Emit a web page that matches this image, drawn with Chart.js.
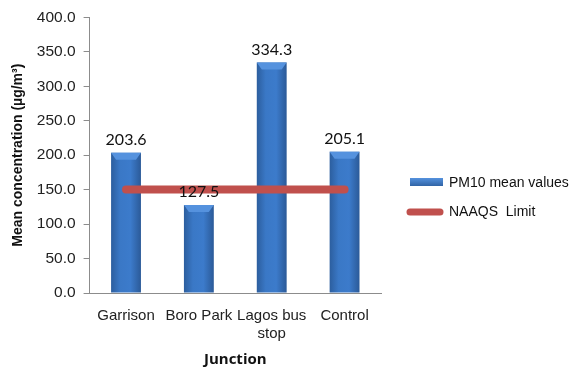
<!DOCTYPE html>
<html lang="en">
<head>
    <meta charset="UTF-8">
    <title>PM10 Mean Concentration by Junction</title>
    <script src="https://cdn.jsdelivr.net/npm/chart.js"></script>
    <style>
        html, body { margin: 0; padding: 0; background: #fff; }
        #wrap { position: relative; width: 579px; height: 377px; }
    </style>
</head>
<body>
    <div id="wrap"><canvas id="pmChart"></canvas></div>

    <script>
        // Junction data
        const junctions = ['Garrison', 'Boro Park', ['Lagos bus', 'stop'], 'Control'];
        const pm10Means = [203.6, 127.5, 334.3, 205.1];
        const naaqsLimit = [150, 150, 150, 150];
        const yTicks = [0, 50, 100, 150, 200, 250, 300, 350, 400];

        const barBlue = '#3a77c6';
        const limitRed = '#c0504d';
        const BAR_PCT = 0.41;
        const BAR_DS = 1;

        // Cylinder-ish shading across each bar, placed from the x scale
        function barFill(ctx) {
            const chart = ctx.chart;
            const xs = chart.scales.x;
            if (!xs || !chart.chartArea) return barBlue;
            const cx = xs.getPixelForValue(ctx.dataIndex);
            const half = (xs.width / junctions.length) * BAR_PCT / 2;
            if (!isFinite(cx) || !half) return barBlue;
            const g = chart.ctx.createLinearGradient(cx - half, 0, cx + half, 0);
            g.addColorStop(0, '#2c5e9e');
            g.addColorStop(0.3, '#3a78c6');
            g.addColorStop(0.65, '#3c7bcb');
            g.addColorStop(1, '#2b5a98');
            return g;
        }

        // Lighter bevel at the top of every bar
        const bevelPlugin = {
            id: 'bevel',
            afterDatasetDraw(chart, args) {
                if (args.index !== BAR_DS) return;
                const c = chart.ctx;
                args.meta.data.forEach(el => {
                    const half = el.width / 2;
                    const h = 7;
                    c.save();
                    c.fillStyle = '#5592de';
                    c.beginPath();
                    c.moveTo(el.x - half, el.y);
                    c.lineTo(el.x + half, el.y);
                    c.lineTo(el.x + half - 5, el.y + h);
                    c.lineTo(el.x - half + 5, el.y + h);
                    c.closePath();
                    c.fill();
                    c.restore();
                });
            }
        };

        // Value labels above bars
        const valueLabels = {
            id: 'valueLabels',
            afterDatasetsDraw(chart) {
                const c = chart.ctx;
                const meta = chart.getDatasetMeta(BAR_DS);
                c.save();
                c.font = '16px Lato, "Open Sans", sans-serif';
                c.fillStyle = '#111';
                c.textAlign = 'center';
                c.textBaseline = 'bottom';
                meta.data.forEach((el, i) => {
                    c.fillText(pm10Means[i].toFixed(1), el.x, el.y - 5);
                });
                c.restore();
            }
        };

        // Legend on the right
        const sideLegend = {
            id: 'sideLegend',
            afterDraw(chart) {
                const c = chart.ctx;
                c.save();
                c.font = '14px "Liberation Sans", Arial, sans-serif';
                c.textBaseline = 'middle';

                const g = c.createLinearGradient(0, 178, 0, 187);
                g.addColorStop(0, '#5592de');
                g.addColorStop(1, '#2c5e9e');
                c.fillStyle = g;
                c.fillRect(410, 178, 33, 8);
                c.fillStyle = '#111';
                c.fillText('PM10 mean values', 449, 183);

                c.strokeStyle = limitRed;
                c.lineWidth = 7;
                c.lineCap = 'round';
                c.beginPath();
                c.moveTo(410, 212);
                c.lineTo(440, 212);
                c.stroke();
                c.fillText('NAAQS  Limit', 449, 212);
                c.restore();
            }
        };

        const ctx = document.getElementById('pmChart').getContext('2d');
        new Chart(ctx, {
            data: {
                labels: junctions,
                datasets: [{
                    type: 'line',
                    label: 'NAAQS  Limit',
                    data: naaqsLimit,
                    borderColor: limitRed,
                    borderWidth: 8,
                    borderCapStyle: 'round',
                    pointRadius: 0,
                    fill: false,
                    order: 0
                }, {
                    type: 'bar',
                    label: 'PM10 mean values',
                    data: pm10Means,
                    backgroundColor: barFill,
                    borderWidth: 0,
                    categoryPercentage: 1,
                    barPercentage: BAR_PCT,
                    order: 1
                }]
            },
            options: {
                responsive: true,
                maintainAspectRatio: false,
                animation: false,
                layout: { padding: { top: 8, right: 198, left: 6, bottom: 4 } },
                plugins: {
                    legend: { display: false },
                    tooltip: { enabled: false }
                },
                scales: {
                    x: {
                        grid: { display: false },
                        border: { color: '#8c8c8c', width: 1 },
                        ticks: {
                            color: '#222',
                            font: { family: '"Liberation Sans", Arial, sans-serif', size: 15 },
                            padding: 6,
                            maxRotation: 0
                        },
                        title: {
                            display: true,
                            text: 'Junction',
                            color: '#111',
                            font: { family: '"Open Sans", sans-serif', size: 15, weight: 'bold' },
                            padding: { top: 2 }
                        }
                    },
                    y: {
                        min: 0,
                        max: 400,
                        afterBuildTicks(scale) {
                            scale.ticks = yTicks.map(v => ({ value: v }));
                        },
                        grid: {
                            drawOnChartArea: false,
                            drawTicks: true,
                            tickLength: 6,
                            color: '#8c8c8c'
                        },
                        border: { color: '#8c8c8c', width: 1 },
                        ticks: {
                            color: '#222',
                            font: { family: '"Liberation Sans", Arial, sans-serif', size: 15.5 },
                            padding: 8,
                            callback: v => Number(v).toFixed(1)
                        },
                        title: {
                            display: true,
                            text: 'Mean concentration (µg/m³)',
                            color: '#111',
                            font: { family: '"Liberation Sans", Arial, sans-serif', size: 14, weight: 'bold' },
                            padding: { bottom: 2 }
                        }
                    }
                }
            },
            plugins: [bevelPlugin, valueLabels, sideLegend]
        });
    </script>
</body>
</html>
